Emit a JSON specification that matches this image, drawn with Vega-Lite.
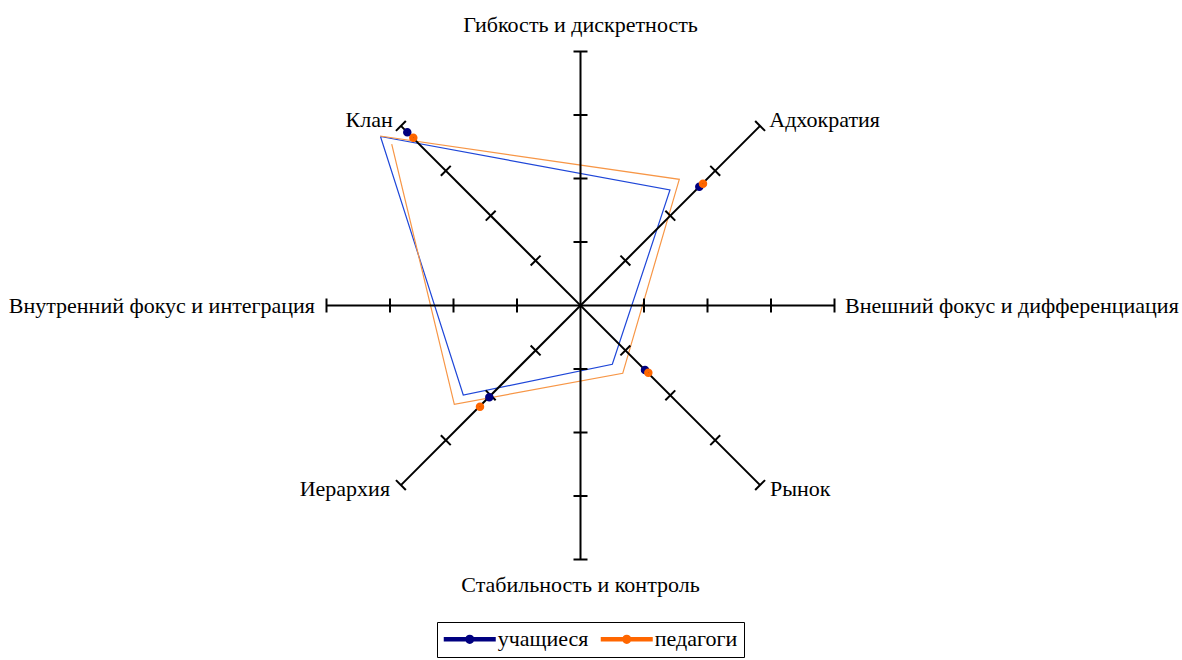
{
  "$schema": "https://vega.github.io/schema/vega-lite/v6.json",
  "width": 1182,
  "height": 660,
  "autosize": {"type": "none"},
  "padding": 0,
  "background": "white",
  "config": {"view": {"stroke": null}, "font": "Liberation Serif"},
  "datasets": {
    "axes": [
      {"x": 0, "y": -4, "x2": 0, "y2": 4},
      {"x": -4, "y": 0, "x2": 4, "y2": 0},
      {"x": -2.8284, "y": 2.8284, "x2": 2.8284, "y2": -2.8284},
      {"x": -2.8284, "y": -2.8284, "x2": 2.8284, "y2": 2.8284}
    ],
    "ticks": [
      {"x": 0, "y": 1, "a": 0}, {"x": 0, "y": 2, "a": 0}, {"x": 0, "y": 3, "a": 0}, {"x": 0, "y": 4, "a": 0},
      {"x": 0, "y": -1, "a": 0}, {"x": 0, "y": -2, "a": 0}, {"x": 0, "y": -3, "a": 0}, {"x": 0, "y": -4, "a": 0},
      {"x": 1, "y": 0, "a": 90}, {"x": 2, "y": 0, "a": 90}, {"x": 3, "y": 0, "a": 90}, {"x": 4, "y": 0, "a": 90},
      {"x": -1, "y": 0, "a": 90}, {"x": -2, "y": 0, "a": 90}, {"x": -3, "y": 0, "a": 90}, {"x": -4, "y": 0, "a": 90},
      {"x": 0.7071, "y": 0.7071, "a": 45}, {"x": 1.4142, "y": 1.4142, "a": 45}, {"x": 2.1213, "y": 2.1213, "a": 45}, {"x": 2.8284, "y": 2.8284, "a": 45},
      {"x": -0.7071, "y": -0.7071, "a": 45}, {"x": -1.4142, "y": -1.4142, "a": 45}, {"x": -2.1213, "y": -2.1213, "a": 45}, {"x": -2.8284, "y": -2.8284, "a": 45},
      {"x": -0.7071, "y": 0.7071, "a": -45}, {"x": -1.4142, "y": 1.4142, "a": -45}, {"x": -2.1213, "y": 2.1213, "a": -45}, {"x": -2.8284, "y": 2.8284, "a": -45},
      {"x": 0.7071, "y": -0.7071, "a": -45}, {"x": 1.4142, "y": -1.4142, "a": -45}, {"x": 2.1213, "y": -2.1213, "a": -45}, {"x": 2.8284, "y": -2.8284, "a": -45}
    ],
    "poly": [
      {"series": "учащиеся", "i": 0, "x": -3.150, "y": 2.661},
      {"series": "учащиеся", "i": 1, "x": 1.409, "y": 1.819},
      {"series": "учащиеся", "i": 2, "x": 0.501, "y": -0.926},
      {"series": "учащиеся", "i": 3, "x": -1.846, "y": -1.409},
      {"series": "учащиеся", "i": 4, "x": -3.150, "y": 2.661},
      {"series": "педагоги", "i": 0, "x": -3.157, "y": 2.669},
      {"series": "педагоги", "i": 1, "x": 1.556, "y": 1.987},
      {"series": "педагоги", "i": 2, "x": 0.665, "y": -1.068},
      {"series": "педагоги", "i": 3, "x": -1.987, "y": -1.556},
      {"series": "педагоги", "i": 4, "x": -2.973, "y": 2.543}
    ],
    "dots": [
      {"series": "учащиеся", "culture": "Клан", "x": -2.728, "y": 2.728},
      {"series": "учащиеся", "culture": "Адхократия", "x": 1.871, "y": 1.871},
      {"series": "учащиеся", "culture": "Рынок", "x": 1.016, "y": -1.016},
      {"series": "учащиеся", "culture": "Иерархия", "x": -1.436, "y": -1.446},
      {"series": "педагоги", "culture": "Клан", "x": -2.633, "y": 2.643},
      {"series": "педагоги", "culture": "Адхократия", "x": 1.929, "y": 1.918},
      {"series": "педагоги", "culture": "Рынок", "x": 1.068, "y": -1.058},
      {"series": "педагоги", "culture": "Иерархия", "x": -1.583, "y": -1.594}
    ],
    "labCenter": [
      {"text": "Гибкость и дискретность", "x": 0, "y": 4.307},
      {"text": "Стабильность и контроль", "x": 0, "y": -4.512}
    ],
    "labRight": [
      {"text": "Клан", "x": -2.957, "y": 2.806},
      {"text": "Иерархия", "x": -3.0, "y": -3.0},
      {"text": "Внутренний фокус и интеграция", "x": -4.181, "y": -0.123}
    ],
    "labLeft": [
      {"text": "Адхократия", "x": 2.973, "y": 2.806},
      {"text": "Рынок", "x": 2.984, "y": -3.0},
      {"text": "Внешний фокус и дифференциация", "x": 4.165, "y": -0.123}
    ]
  },
  "layer": [
    {
      "data": {"name": "poly"},
      "transform": [{"filter": "datum.series === 'учащиеся'"}],
      "mark": {"type": "line", "strokeWidth": 1.2, "color": "#1E46D8"},
      "encoding": {
        "x": {"field": "x", "type": "quantitative", "scale": {"domain": [-9.1417, 9.4724], "nice": false, "zero": false}, "axis": null},
        "y": {"field": "y", "type": "quantitative", "scale": {"domain": [-5.5827, 4.8110], "nice": false, "zero": false}, "axis": null},
        "order": {"field": "i", "type": "quantitative"}
      }
    },
    {
      "data": {"name": "poly"},
      "transform": [{"filter": "datum.series === 'педагоги'"}],
      "mark": {"type": "line", "strokeWidth": 1.2, "color": "#F79646"},
      "encoding": {
        "x": {"field": "x", "type": "quantitative"},
        "y": {"field": "y", "type": "quantitative"},
        "order": {"field": "i", "type": "quantitative"}
      }
    },
    {
      "data": {"name": "axes"},
      "mark": {"type": "rule", "color": "black", "strokeWidth": 2},
      "encoding": {
        "x": {"field": "x", "type": "quantitative"},
        "y": {"field": "y", "type": "quantitative"},
        "x2": {"field": "x2"},
        "y2": {"field": "y2"}
      }
    },
    {
      "data": {"name": "ticks"},
      "mark": {"type": "point", "shape": "stroke", "filled": false, "color": "black", "strokeWidth": 2, "size": 196, "opacity": 1},
      "encoding": {
        "x": {"field": "x", "type": "quantitative"},
        "y": {"field": "y", "type": "quantitative"},
        "angle": {"field": "a", "type": "quantitative", "scale": null}
      }
    },
    {
      "data": {"name": "labCenter"},
      "mark": {"type": "text", "align": "center", "baseline": "alphabetic", "fontSize": 22, "color": "black"},
      "encoding": {
        "x": {"field": "x", "type": "quantitative"},
        "y": {"field": "y", "type": "quantitative"},
        "text": {"field": "text"}
      }
    },
    {
      "data": {"name": "labRight"},
      "mark": {"type": "text", "align": "right", "baseline": "alphabetic", "fontSize": 22, "color": "black"},
      "encoding": {
        "x": {"field": "x", "type": "quantitative"},
        "y": {"field": "y", "type": "quantitative"},
        "text": {"field": "text"}
      }
    },
    {
      "data": {"name": "labLeft"},
      "mark": {"type": "text", "align": "left", "baseline": "alphabetic", "fontSize": 22, "color": "black"},
      "encoding": {
        "x": {"field": "x", "type": "quantitative"},
        "y": {"field": "y", "type": "quantitative"},
        "text": {"field": "text"}
      }
    },
    {
      "data": {"name": "dots"},
      "mark": {"type": "point", "filled": false, "size": 16, "strokeWidth": 4.5, "opacity": 1},
      "encoding": {
        "x": {"field": "x", "type": "quantitative"},
        "y": {"field": "y", "type": "quantitative"},
        "color": {
          "field": "series", "type": "nominal",
          "scale": {"domain": ["учащиеся", "педагоги"], "range": ["#000080", "#FF6600"]},
          "legend": {
            "title": null,
            "orient": "none",
            "legendX": 437,
            "legendY": 622,
            "direction": "horizontal",
            "symbolType": "M-3.25,0H3.25M-0.3,0A0.3,0.3,0,1,0,0.3,0A0.3,0.3,0,1,0,-0.3,0",
            "symbolSize": 256,
            "symbolStrokeWidth": 4.5,
            "symbolOffset": 15.75,
            "labelOffset": 17,
            "labelFontSize": 22,
            "labelFont": "Liberation Serif",
            "labelColor": "black",
            "columnPadding": 2,
            "padding": 6,
            "strokeColor": "black",
            "fillColor": "white",
            "encode": {
              "legend": {"update": {"strokeWidth": {"value": 2}}},
              "symbols": {"update": {"opacity": {"value": 1}}}
            }
          }
        }
      }
    }
  ]
}
